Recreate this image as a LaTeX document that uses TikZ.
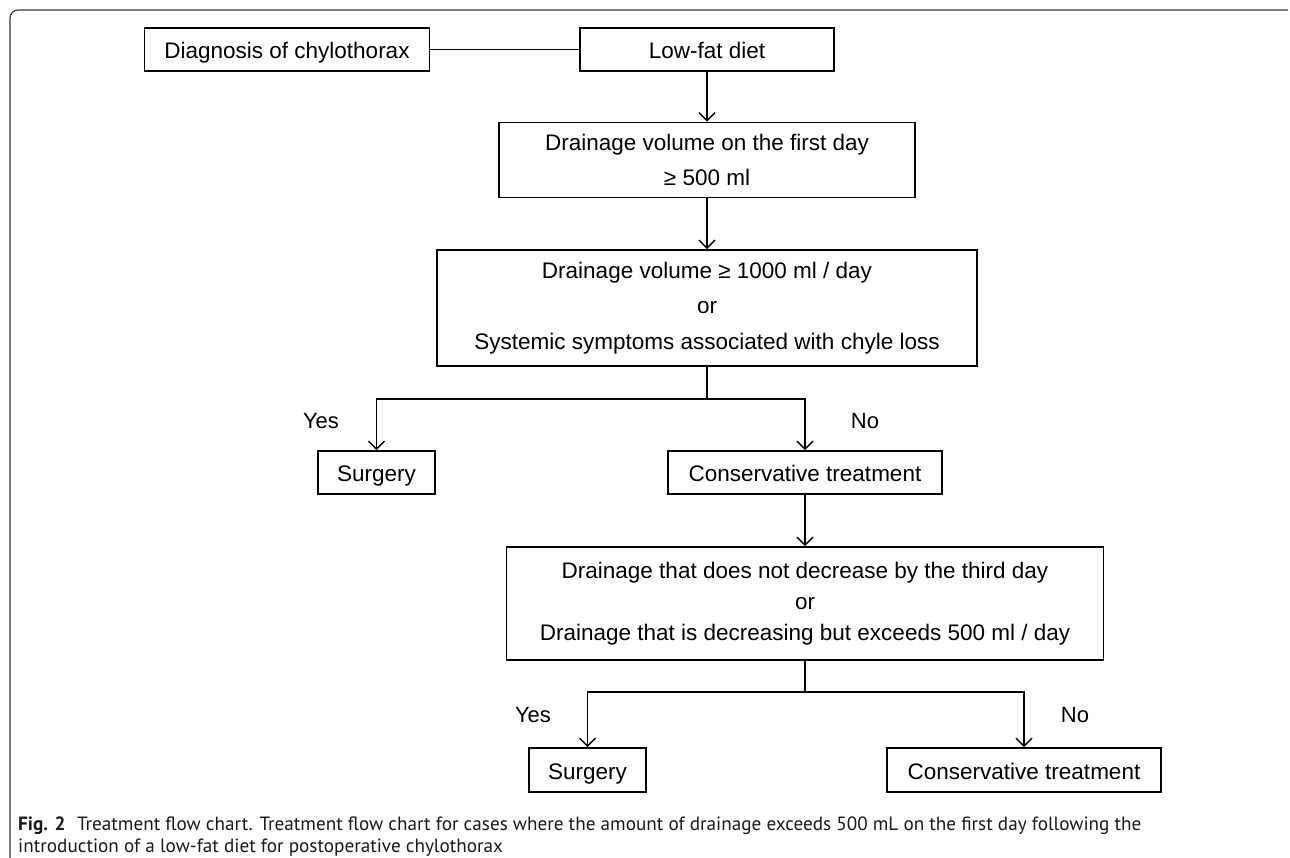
\documentclass[tikz,border=0pt]{standalone}
\usepackage{fontspec}
\setmainfont{Liberation Sans}
\newfontfamily\capfont{PT Sans}
\usetikzlibrary{arrows.meta}
\begin{document}
\begin{tikzpicture}[x=1pt, y=-1pt,
  box/.style={draw=black, line width=1.6pt, inner sep=0pt, font=\fontsize{22.5}{27}\selectfont},
  onebox/.style={box, text height=21pt, text depth=3pt},
  lbl/.style={font=\fontsize{22}{26}\selectfont},
  line/.style={-, line width=1.4pt, draw=black},
  arr/.style={-{Straight Barb[length=8pt,width=16pt]}, line width=1.4pt, draw=black}]
\useasboundingbox (0,0) rectangle (1290,858);
\draw[line width=1.2pt, black!80, rounded corners=8pt] (10,858) -- (10,10) -- (1288,10);
\node[onebox, minimum width=285, minimum height=43] (1) at (287,49.5) {Diagnosis of chylothorax};
\node[onebox, minimum width=254, minimum height=43] (2) at (707,49.5) {Low-fat diet};
\node[box, align=center, minimum width=416, minimum height=75] (3) at (707,160) {Drainage volume on the first day\\[8pt]≥ 500 ml};
\node[box, align=center, minimum width=540, minimum height=116] (4) at (707,308) {Drainage volume ≥ 1000 ml / day\\[8.5pt]or\\[8.5pt]Systemic symptoms associated with chyle loss};
\node[onebox, minimum width=117, minimum height=43] (5) at (376.5,472.5) {Surgery};
\node[onebox, minimum width=274, minimum height=43] (6) at (805,472.5) {Conservative treatment};
\node[box, align=center, minimum width=597, minimum height=113] (7) at (805,603.5) {Drainage that does not decrease by the third day\\[4pt]or\\[4pt]Drainage that is decreasing but exceeds 500 ml / day};
\node[onebox, minimum width=117, minimum height=44] (8) at (587.5,770) {Surgery};
\node[onebox, minimum width=274, minimum height=44] (9) at (1024,770) {Conservative treatment};
\node[lbl] (Y1) at (321,421) {Yes};
\node[lbl] (N1) at (865,421) {No};
\node[lbl] (Y2) at (533,715) {Yes};
\node[lbl] (N2) at (1075,715) {No};
\coordinate (A) at (707,399);
\coordinate (B) at (805,692);
\path [line] (1) edge (2);
\path [arr] (2) edge (3);
\path [arr] (3) edge (4);
\draw [line] (4) -- (A);
\draw [arr] (A) -| (5);
\draw [arr] (A) -| (6);
\path [arr] (6) edge (7);
\draw [line] (7) -- (B);
\draw [arr] (B) -| (8);
\draw [arr] (B) -| (9);
\node[anchor=north west, align=left, inner sep=0pt, text=black!90, font=\capfont\fontsize{19.2}{22}\selectfont] (C) at (18,817) {\textbf{Fig. 2}\hspace{0.6em}Treatment flow chart. Treatment flow chart for cases where the amount of drainage exceeds 500 mL on the first day following the\\introduction of a low-fat diet for postoperative chylothorax};
\end{tikzpicture}
\end{document}
